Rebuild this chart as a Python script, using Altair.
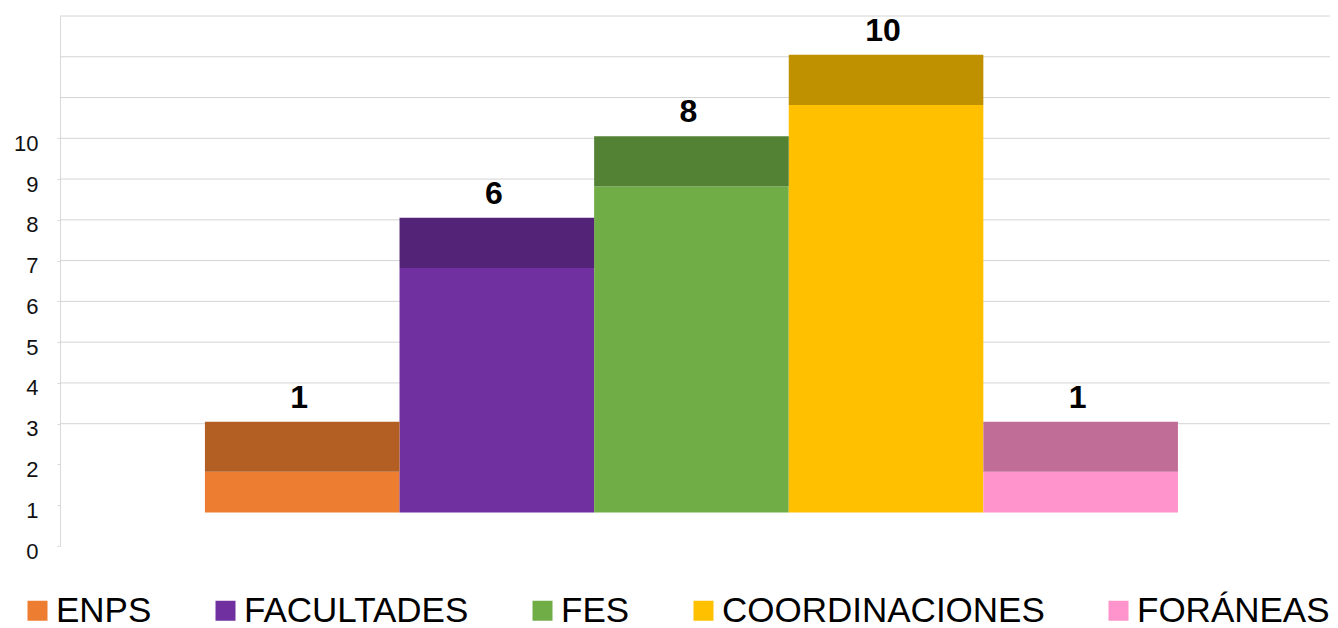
import altair as alt
import pandas as pd

# ---- data ----
categories = ["ENPS", "FACULTADES", "FES", "COORDINACIONES", "FORÁNEAS"]
values = [1, 6, 8, 10, 1]
y_tick_labels = list(range(0, 11))
grid_lines = list(range(3, 14))

# ---- palette ----
front_colors = ["#ED7D31", "#7030A0", "#70AD47", "#FFC000", "#FF93CB"]
top_colors = ["#B35E23", "#532377", "#548235", "#BF9000", "#C06E98"]

# 3D-look geometry (floor offset and depth of the column top face, in axis units)
FLOOR = 0.82
DEPTH = 1.23

df = pd.DataFrame({"cat": categories, "value": values})
df["front_lo"] = FLOOR
df["front_hi"] = FLOOR + df["value"]
df["top_hi"] = df["front_hi"] + DEPTH

FONT = "Liberation Sans"

xenc = alt.X(
    "cat:N",
    sort=categories,
    scale=alt.Scale(paddingInner=0, paddingOuter=0.763, align=0.488),
    axis=None,
)
yscale = alt.Scale(domain=[0, 13], nice=False, zero=False)
yaxis = alt.Axis(
    values=y_tick_labels,
    grid=False,
    domainColor="#d9d9d9",
    tickColor="#d9d9d9",
    tickSize=3,
    labelFontSize=22,
    labelFont=FONT,
    labelColor="#111111",
    labelPadding=19,
    labelOffset=5,
    title=None,
)

grid = (
    alt.Chart(pd.DataFrame({"g": grid_lines}))
    .mark_rule(color="#d4d4d4", strokeWidth=1)
    .encode(y=alt.Y("g:Q", scale=yscale, axis=yaxis))
)

front = (
    alt.Chart(df)
    .mark_bar(strokeWidth=0, opacity=1)
    .encode(
        x=xenc,
        y=alt.Y("front_lo:Q", scale=yscale, axis=yaxis),
        y2="front_hi:Q",
        color=alt.Color(
            "cat:N",
            sort=categories,
            scale=alt.Scale(domain=categories, range=front_colors),
            legend=alt.Legend(
                orient="none",
                legendX=-40,
                legendY=577,
                direction="horizontal",
                title=None,
                symbolType="square",
                symbolSize=400,
                symbolStrokeWidth=0,
                symbolOpacity=1,
                labelFontSize=35,
                labelFont=FONT,
                labelColor="black",
                labelOffset=1,
                columnPadding=56,
                labelLimit=600,
                padding=0,
            ),
        ),
    )
)

top = (
    alt.Chart(df)
    .mark_bar(strokeWidth=0, opacity=1)
    .encode(
        x=xenc,
        y=alt.Y("front_hi:Q", scale=yscale, axis=yaxis),
        y2="top_hi:Q",
        color=alt.Color(
            "cat:N",
            sort=categories,
            scale=alt.Scale(domain=categories, range=top_colors),
            legend=None,
        ),
    )
)

labels = (
    alt.Chart(df)
    .mark_text(dx=-3, dy=-7, baseline="bottom", fontSize=32, fontWeight="bold", font=FONT, color="black")
    .encode(
        x=xenc,
        y=alt.Y("top_hi:Q", scale=yscale, axis=yaxis),
        text="value:Q",
    )
)

chart = (
    alt.layer(grid, front, top, labels)
    .resolve_scale(color="independent")
    .properties(
        width=1270,
        height=530,
        padding={"left": 52, "top": 8, "right": 0, "bottom": 82},
        autosize=alt.AutoSizeParams(type="none"),
    )
    .configure_view(stroke=None)
)

chart.save("out.html", embed_options={"renderer": "svg", "actions": False})
